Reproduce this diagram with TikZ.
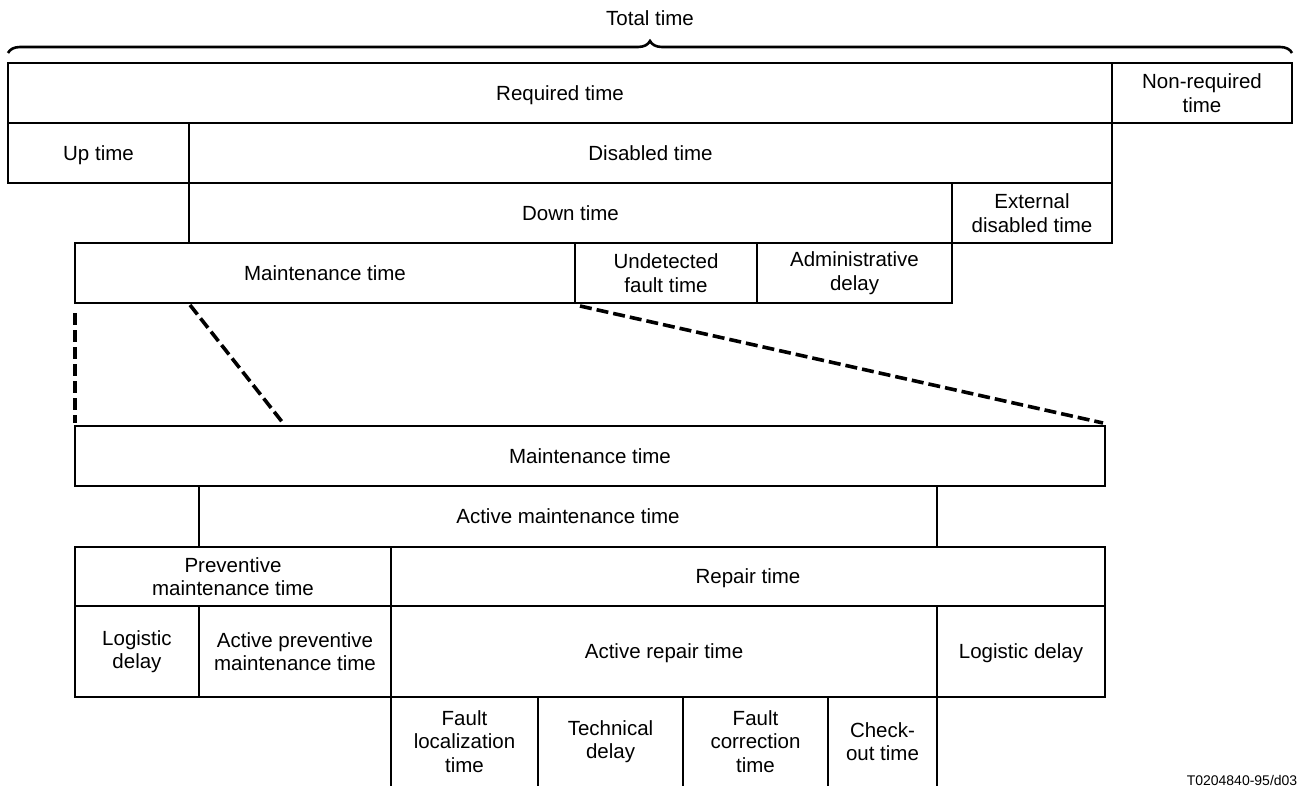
\documentclass[tikz,border=0pt]{standalone}
\usepackage{fontspec}
\setmainfont{Liberation Sans}
\usetikzlibrary{calc,decorations.pathreplacing}
\begin{document}
\begin{tikzpicture}[x=1pt,y=-1pt,
  every node/.style={font=\fontsize{20.5}{23.5}\selectfont, align=center, inner sep=0pt, outer sep=0pt},
  cellbox/.style={draw, line width=2.2pt, rectangle, minimum width=#1},
  cellbox/.default=100pt,
  oneline/.style={text height=14.7pt, text depth=0pt},
  opencell/.style={rectangle, minimum width=#1, minimum height=89pt},
  rule/.style={line width=2.2pt},
  zoomline/.style={line width=3.6pt, dash pattern=on 12pt off 5pt}]
\useasboundingbox (0,0) rectangle (1297,786);

% top brace
\node[oneline] (total) at (650,18) {Total time};
\coordinate (bl) at (8,53);
\coordinate (br) at (1292,53);
\draw[line width=2.6pt, decorate, decoration={brace, amplitude=12pt}] (bl) -- (br);

% upper rows
\node[cellbox=1104pt, minimum height=60pt, oneline] (req) at (560,93) {Required time};
\node[cellbox=180pt, minimum height=60pt] (nonreq) at (1202,93) {Non-required\\time};
\node[cellbox=181pt, minimum height=60pt, oneline] (up) at (98.5,153) {Up time};
\node[cellbox=923pt, minimum height=60pt, oneline] (dis) at (650.5,153) {Disabled time};
\node[cellbox=763pt, minimum height=60pt, oneline] (down) at (570.5,213) {Down time};
\node[cellbox=160pt, minimum height=60pt] (ext) at (1032,213) {External\\disabled time};
\node[cellbox=500pt, minimum height=60pt, oneline] (mt1) at (325,273) {Maintenance time};
\node[cellbox=182pt, minimum height=60pt] (und) at (666,273) {Undetected\\fault time};
\node[cellbox=195pt, minimum height=60pt] (adm) at (854.5,273) {Administrative\\delay};

% lower rows
\node[cellbox=1030pt, minimum height=60pt, oneline] (mt2) at (590,456) {Maintenance time};
\node[cellbox=738pt, minimum height=61pt, oneline] (amt) at (568,516.5) {Active maintenance time};
\node[cellbox=316pt, minimum height=59pt] (prev) at (233,576.5) {Preventive\\maintenance time};
\node[cellbox=714pt, minimum height=59pt, oneline] (rep) at (748,576.5) {Repair time};
\node[cellbox=124pt, minimum height=91pt] (log1) at (137,651.5) {Logistic\\delay};
\node[cellbox=192pt, minimum height=91pt] (apm) at (295,651.5) {Active preventive\\maintenance time};
\node[cellbox=546pt, minimum height=91pt, oneline] (art) at (664,651.5) {Active repair time};
\node[cellbox=168pt, minimum height=91pt, oneline] (log2) at (1021,651.5) {Logistic delay};

% bottom open row
\node[opencell=147pt] (fl) at (464.5,741.5) {Fault\\localization\\time};
\node[opencell=145pt] (td) at (610.5,741.5) {Technical\\delay};
\node[opencell=145pt] (fc) at (755.5,741.5) {Fault\\correction\\time};
\node[opencell=109pt] (co) at (882.5,741.5) {Check-\\out time};
\draw[rule] (fl.north west) -- (fl.south west);
\draw[rule] (td.north west) -- (td.south west);
\draw[rule] (fc.north west) -- (fc.south west);
\draw[rule] (co.north west) -- (co.south west);
\draw[rule] (co.north east) -- (co.south east);

% zoom lines
\draw[zoomline] ($(mt1.south west)+(0,10)$) -- ($(mt2.north west)+(0,-3)$);
\draw[zoomline] ($(mt1.south west)+(115,2)$) -- ($(mt2.north west)+(208,-3)$);
\draw[zoomline] ($(und.south west)+(5,3)$) -- ($(mt2.north east)+(-2,-3)$);

% figure id
\node[font=\fontsize{14}{16}\selectfont, anchor=base] (fid) at (1242,785) {T0204840-95/d03};
\end{tikzpicture}
\end{document}
